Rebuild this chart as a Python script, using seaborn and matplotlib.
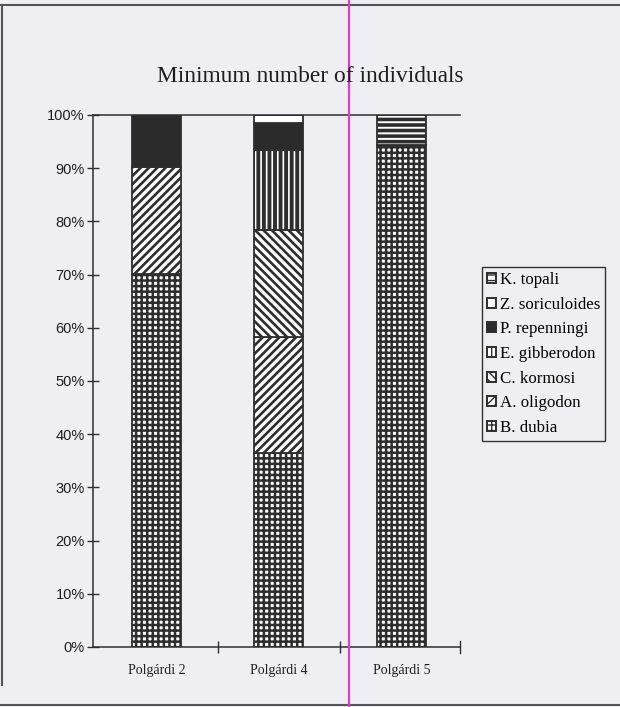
import numpy as np
import pandas as pd
import matplotlib
matplotlib.use("Agg")
import matplotlib.pyplot as plt
from matplotlib.lines import Line2D
from matplotlib.patches import Patch
import seaborn as sns

# data (percent of minimum number of individuals), bottom -> top
sites = ["Polgárdi 2", "Polgárdi 4", "Polgárdi 5"]
species = ["B. dubia", "A. oligodon", "C. kormosi", "E. gibberodon",
           "P. repenningi", "Z. soriculoides", "K. topali"]
b_dubia = [70.2, 36.5, 94.4]
a_oligodon = [20.0, 21.8, 0.0]
c_kormosi = [0.0, 20.1, 0.0]
e_gibberodon = [0.0, 15.0, 0.0]
p_repenningi = [9.8, 5.1, 0.0]
z_soriculoides = [0.0, 1.5, 0.0]
k_topali = [0.0, 0.0, 5.6]

values = [b_dubia, a_oligodon, c_kormosi, e_gibberodon,
          p_repenningi, z_soriculoides, k_topali]

# fill styles (face, hatch, hatch linewidth)
styles = {
    "B. dubia": ("white", "+++", 1.8),
    "A. oligodon": ("white", "////", 1.9),
    "C. kormosi": ("white", "\\\\\\\\", 1.9),
    "E. gibberodon": ("white", "|||", 2.8),
    "P. repenningi": ("#2b2b2b", "", 1.0),
    "Z. soriculoides": ("white", "", 1.0),
    "K. topali": ("white", "---", 2.6),
}

bg = "#efeef3"
ink = "#2e2e2e"

plt.rcParams["hatch.color"] = ink

fig = plt.figure(figsize=(6.2, 7.07), dpi=100, facecolor=bg)
ax = fig.add_axes([93 / 620, 1 - 647 / 707, 367 / 620, 532 / 707])
ax.set_facecolor(bg)

bottom = np.zeros(len(sites))
for name, vals in zip(species, values):
    face, hatch, hlw = styles[name]
    df = pd.DataFrame({"site": sites, "pct": vals})
    n_before = len(ax.patches)
    sns.barplot(data=df, x="site", y="pct", ax=ax, width=0.4,
                bottom=bottom.copy(), color=face, edgecolor=ink,
                linewidth=1.3, errorbar=None, saturation=1)
    for p in ax.patches[n_before:]:
        p.set_facecolor(face)
        if hatch:
            p.set_hatch(hatch)
            if hasattr(p, "set_hatch_linewidth"):
                p.set_hatch_linewidth(hlw)
    bottom += np.array(vals)

ax.set_ylim(0, 100)
ax.set_xlim(-0.52, 2.48)
ax.set_xlabel("")
ax.set_ylabel("")

ax.set_yticks(np.arange(0, 101, 10))
ax.set_yticklabels([f"{v}%" for v in range(0, 101, 10)],
                   fontfamily="Liberation Sans", fontsize=10.5, color="#1e1e1e")
ax.tick_params(axis="y", direction="inout", length=8, width=1, color=ink, pad=2)

ax.set_xticks([0, 1, 2])
ax.set_xticklabels(sites, fontfamily="Liberation Serif", fontsize=10, color="#1e1e1e")
ax.set_xticks([0.5, 1.5], minor=True)
ax.tick_params(axis="x", which="major", length=0, pad=12)
ax.tick_params(axis="x", which="minor", direction="inout", length=8, width=1, color=ink)

for s in ["left", "bottom", "top"]:
    ax.spines[s].set_color(ink)
    ax.spines[s].set_linewidth(1.1)
ax.spines["right"].set_visible(False)
# small end tick at the right of the category axis
ax.plot([1, 1], [-0.012, 0.012], transform=ax.transAxes, color=ink, lw=1,
        clip_on=False)

# legend, top entry first
handles = []
for name in reversed(species):
    face, hatch, hlw = styles[name]
    h = Patch(facecolor=face, edgecolor=ink, hatch=hatch, linewidth=1.4)
    handles.append(h)
leg = fig.legend(handles, list(reversed(species)), loc="upper left",
                 bbox_to_anchor=(482 / 620, 1 - 267 / 707),
                 prop={"family": "Liberation Serif", "size": 12.2},
                 frameon=True, fancybox=False, edgecolor="#333333",
                 facecolor=bg, framealpha=1, handlelength=0.55, handleheight=0.55,
                 handletextpad=0.2, labelspacing=0.51, borderpad=0.3,
                 borderaxespad=0)
leg.get_frame().set_linewidth(1.0)

fig.text(0.5, 1 - 76 / 707, "Minimum number of individuals",
         ha="center", va="center", fontfamily="Liberation Serif",
         fontsize=16.8, color="#1e1e1e")

# page frame and scan line
fig.add_artist(Line2D([0, 1], [1 - 5 / 707, 1 - 5 / 707], color="#555555", lw=1.5))
fig.add_artist(Line2D([2 / 620, 2 / 620], [1 - 5 / 707, 1 - 685 / 707], color="#555555", lw=1.5))
fig.add_artist(Line2D([0, 1], [1 - 705 / 707, 1 - 705 / 707], color="#555555", lw=1.5))
fig.add_artist(Line2D([349 / 620, 349 / 620], [0, 1], color="#e03cc4", lw=1.6))

fig.savefig("out.png", dpi=100, facecolor=bg)
